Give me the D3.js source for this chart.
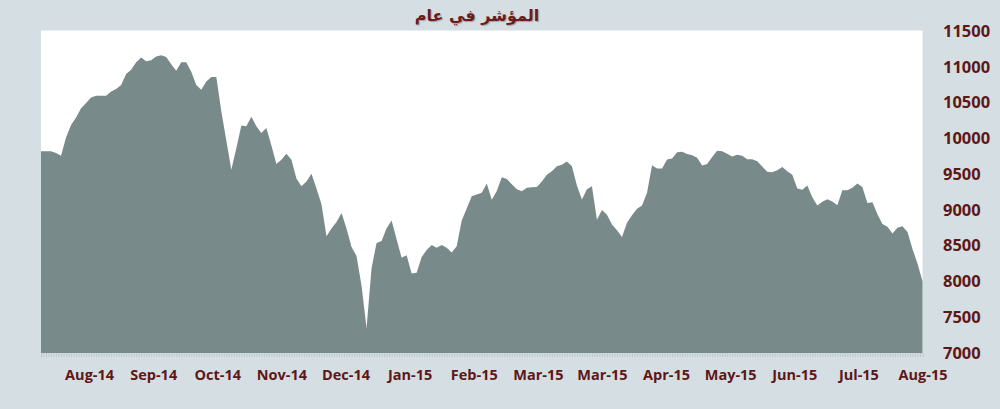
<!DOCTYPE html>
<html>
<head>
<meta charset="utf-8">
<script src="https://cdn.jsdelivr.net/npm/d3@7"></script>
<style>
  html, body { margin: 0; padding: 0; background: #d5dee3; }
  svg { display: block; }
  .lbl text { font-family: "Open Sans", sans-serif; font-weight: 700; fill: #5e1717; }
</style>
</head>
<body>
<div id="chart"></div>
<script>
const width = 1000, height = 409;

// index values
const values = [
  9819, 9819, 9819, 9795, 9755, 10010, 10185, 10290, 10420, 10495,
  10572, 10596, 10596, 10596, 10655, 10690, 10745, 10900, 10960, 11065,
  11128, 11078, 11090, 11143, 11160, 11135, 11035, 10945, 11065, 11065,
  10930, 10745, 10680, 10795, 10857, 10857, 10378, 9970, 9562, 9860,
  10180, 10170, 10300, 10170, 10075, 10144, 9900, 9640, 9700, 9785,
  9700, 9440, 9330, 9395, 9506, 9300, 9080, 8631, 8740, 8830,
  8957, 8740, 8480, 8355, 7940, 7349, 8188, 8537, 8565, 8745,
  8850, 8590, 8330, 8365, 8110, 8120, 8340, 8440, 8510, 8470,
  8510, 8470, 8405, 8491, 8850, 9020, 9190, 9215, 9240, 9370,
  9143, 9265, 9455, 9430, 9360, 9288, 9260, 9310, 9315, 9320,
  9395, 9492, 9540, 9610, 9632, 9675, 9610, 9340, 9145, 9290,
  9329, 8863, 9000, 8933, 8795, 8715, 8620, 8820, 8925, 9015,
  9060, 9240, 9623, 9580, 9580, 9705, 9718, 9805, 9814, 9781,
  9765, 9730, 9620, 9640, 9740, 9827, 9820, 9786, 9745, 9772,
  9757, 9708, 9708, 9680, 9605, 9532, 9526, 9555, 9600, 9540,
  9490, 9300, 9282, 9340, 9175, 9060, 9115, 9150, 9118, 9065,
  9273, 9275, 9310, 9370, 9320, 9096, 9108, 8940, 8803, 8765,
  8670, 8750, 8770, 8691, 8455, 8250, 8002
];

const xLabels = ["Aug-14", "Sep-14", "Oct-14", "Nov-14", "Dec-14", "Jan-15", "Feb-15",
  "Mar-15", "Mar-15", "Apr-15", "May-15", "Jun-15", "Jul-15", "Aug-15"];
const labelStep = 12.8; // points between labels
const yTicks = [7000, 7500, 8000, 8500, 9000, 9500, 10000, 10500, 11000, 11500];

const title = "المؤشر في عام";

const margin = {left: 41, right: 922.5, top: 31, bottom: 353};

const svg = d3.select("#chart").append("svg")
  .attr("width", width).attr("height", height);

svg.append("rect").attr("width", width).attr("height", height).attr("fill", "#d5dee3");

const last = values.length - 1;
const x = d3.scaleLinear().domain([0, last]).range([margin.left, margin.right]);
const y = d3.scaleLinear().domain([7000, 11500]).range([margin.bottom, margin.top]);

// plot background
svg.append("rect")
  .attr("x", margin.left).attr("y", margin.top - 0.5)
  .attr("width", margin.right - margin.left).attr("height", margin.bottom - margin.top + 0.5)
  .attr("fill", "#ffffff");

const area = d3.area()
  .x((d, i) => x(i))
  .y0(y(7000))
  .y1(d => y(d));

svg.append("path").datum(values)
  .attr("fill", "#798a8b")
  .attr("d", area);

// dense category ticks along the bottom
const minor = svg.append("g")
  .attr("transform", `translate(0,${margin.bottom})`)
  .call(d3.axisBottom(x).tickValues(d3.range(0, last + 0.01, 0.5)).tickSize(4).tickFormat(""));
minor.select(".domain").remove();
minor.selectAll("line").attr("stroke", "#b9c2c6").attr("stroke-width", 0.8);

// x labels
const labelIdx = xLabels.map((d, i) => last - labelStep * (xLabels.length - 1 - i));
const xAxis = svg.append("g").attr("class", "lbl")
  .attr("transform", `translate(0,${margin.bottom})`)
  .call(d3.axisBottom(x).tickValues(labelIdx).tickSize(0).tickPadding(16.5)
    .tickFormat((d, i) => xLabels[i]));
xAxis.select(".domain").remove();
xAxis.selectAll("text").attr("font-size", 14.5);

// y labels on the right
const yAxis = svg.append("g").attr("class", "lbl")
  .attr("transform", `translate(943,0)`)
  .call(d3.axisRight(y).tickValues(yTicks).tickSize(0).tickPadding(0).tickFormat(d3.format("d")));
yAxis.select(".domain").remove();
yAxis.selectAll("text").attr("font-size", 16.5);

// title
svg.append("text")
  .attr("x", 477).attr("y", 21)
  .attr("text-anchor", "middle")
  .attr("font-family", "DejaVu Sans, sans-serif")
  .attr("font-weight", 700)
  .attr("font-size", 16)
  .attr("fill", "#6e1a1a")
  .style("text-shadow", "1px 1px 1px rgba(0,0,0,0.25)")
  .text(title);
</script>
</body>
</html>
